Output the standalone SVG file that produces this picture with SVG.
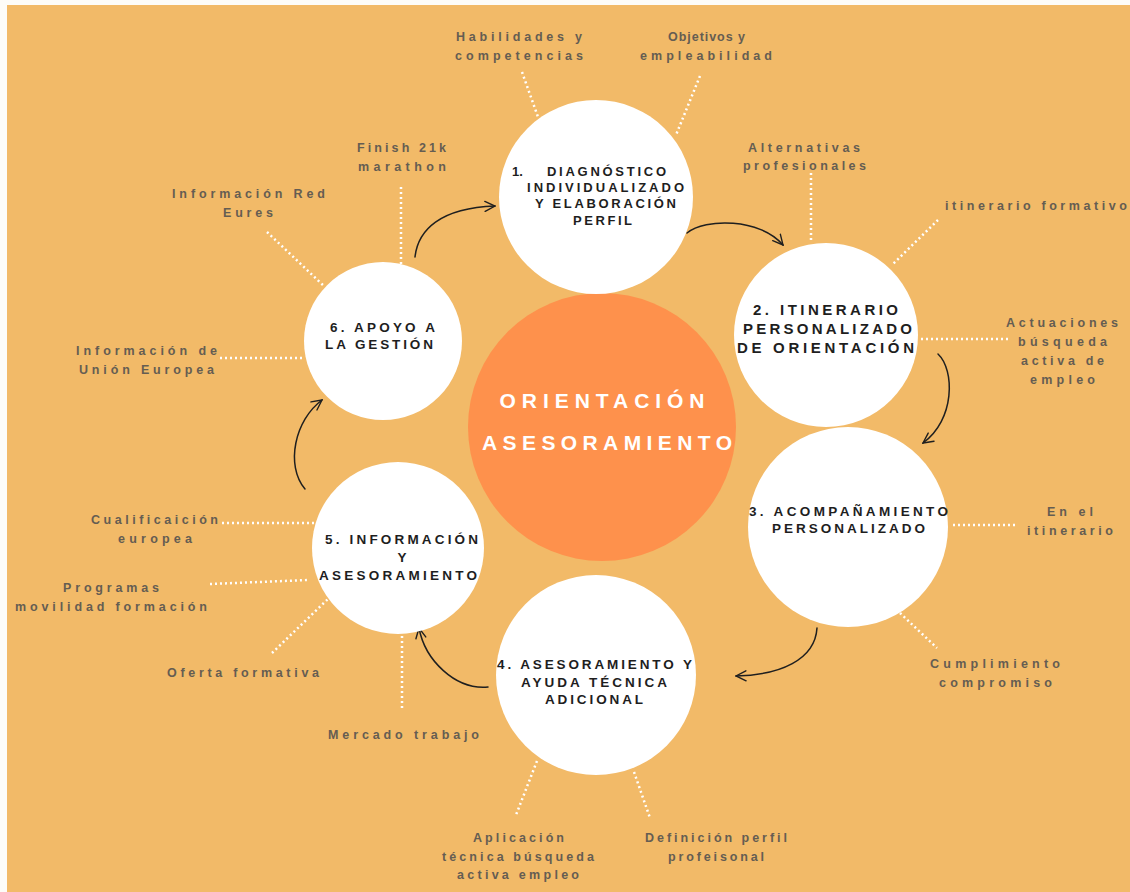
<svg xmlns="http://www.w3.org/2000/svg" width="1130" height="892" viewBox="0 0 1130 892">
<defs>
<style>
.bg{fill:#F2BA68}
.node{fill:#FFFFFF}
.core{fill:#FE914C}
.nt{font-family:"Liberation Sans",Arial,sans-serif;font-weight:bold;font-size:13.5px;fill:#1E1E1E;text-anchor:middle}
.ct{font-family:"Liberation Sans",Arial,sans-serif;font-weight:bold;font-size:21px;fill:#FFFFFF;text-anchor:middle}
.lb{font-family:"Liberation Sans",Arial,sans-serif;font-weight:bold;font-size:12.5px;fill:#655D52;text-anchor:middle}
.dot{stroke:#FFFFFF;stroke-width:2.5;stroke-dasharray:2 3;fill:none}
.arr{stroke:#1F1F1F;stroke-width:1.5;fill:none;stroke-linecap:round}
</style>
<marker id="ah" viewBox="0 0 12 12" refX="11" refY="6" markerWidth="12" markerHeight="12" markerUnits="userSpaceOnUse" orient="auto">
<path d="M1,1 L11,6 L1,11" fill="none" stroke="#1F1F1F" stroke-width="1.4" stroke-linecap="round"/>
</marker>
</defs>
<rect x="0" y="0" width="1130" height="892" fill="#FDFCF8"/>
<rect class="bg" x="7" y="5" width="1123" height="887"/>

<g id="connectors">
<path class="dot" d="M522,72 L538,117"/>
<path class="dot" d="M700,76 L676,135"/>
<path class="dot" d="M401,187 L401,265"/>
<path class="dot" d="M811,173 L811,242"/>
<path class="dot" d="M938,220 L892,265"/>
<path class="dot" d="M921,339 L1010,339"/>
<path class="dot" d="M267,232 L325,287"/>
<path class="dot" d="M220,358 L303,358"/>
<path class="dot" d="M953,525 L1015,525"/>
<path class="dot" d="M900,613 L937,648"/>
<path class="dot" d="M222,523 L315,523"/>
<path class="dot" d="M210,584 L308,580"/>
<path class="dot" d="M272,653 L328,599"/>
<path class="dot" d="M402,631 L402,708"/>
<path class="dot" d="M537,761 L516,815"/>
<path class="dot" d="M634,772 L650,818"/>
<path class="arr" marker-end="url(#ah)" d="M415,257 C418,230 440,208 495,206"/>
<path class="arr" marker-end="url(#ah)" d="M687,233 C705,218 760,218 783,245"/>
<path class="arr" marker-end="url(#ah)" d="M938,354 C955,370 955,420 923,443"/>
<path class="arr" marker-end="url(#ah)" d="M817,628 C815,660 780,675 736,676"/>
<path class="arr" marker-end="url(#ah)" d="M488,687 C455,690 425,660 419,628"/>
<path class="arr" marker-end="url(#ah)" d="M305,489 C285,465 295,420 322,400"/>
</g>

<g id="center">
<circle class="core" cx="602" cy="427" r="134"/>
<text class="ct" x="602" y="408" textLength="205" lengthAdjust="spacing">ORIENTACIÓN</text>
<text class="ct" x="607" y="450" textLength="250" lengthAdjust="spacing">ASESORAMIENTO</text>
</g>

<g id="node1">
<circle class="node" cx="596" cy="197" r="97"/>
<text class="nt" style="font-size:13px"><tspan x="512" y="176" text-anchor="start">1.</tspan><tspan x="547" y="176" text-anchor="start" textLength="119" lengthAdjust="spacing">DIAGNÓSTICO</tspan></text>
<text class="nt" style="font-size:13px" x="605.5" y="192" textLength="157" lengthAdjust="spacing">INDIVIDUALIZADO</text>
<text class="nt" style="font-size:13px" x="605.5" y="208" textLength="141" lengthAdjust="spacing">Y ELABORACIÓN</text>
<text class="nt" style="font-size:13px" x="602.5" y="225" textLength="59" lengthAdjust="spacing">PERFIL</text>
</g>

<g id="node2">
<circle class="node" cx="826" cy="335" r="92"/>
<text class="nt" style="font-size:15px" x="825.5" y="315" textLength="145" lengthAdjust="spacing">2. ITINERARIO</text>
<text class="nt" style="font-size:15px" x="827.5" y="334" textLength="169" lengthAdjust="spacing">PERSONALIZADO</text>
<text class="nt" style="font-size:15px" x="825.5" y="353" textLength="177" lengthAdjust="spacing">DE ORIENTACIÓN</text>
</g>

<g id="node3">
<circle class="node" cx="848" cy="527" r="100"/>
<text class="nt" x="848.5" y="516" textLength="199" lengthAdjust="spacing">3. ACOMPAÑAMIENTO</text>
<text class="nt" x="848.5" y="533" textLength="153" lengthAdjust="spacing">PERSONALIZADO</text>
</g>

<g id="node4">
<circle class="node" cx="596" cy="675" r="100"/>
<text class="nt" x="594.5" y="669" textLength="195" lengthAdjust="spacing">4. ASESORAMIENTO Y</text>
<text class="nt" x="594" y="687" textLength="146" lengthAdjust="spacing">AYUDA TÉCNICA</text>
<text class="nt" x="594" y="704" textLength="98" lengthAdjust="spacing">ADICIONAL</text>
</g>

<g id="node5">
<circle class="node" cx="398" cy="548" r="86"/>
<text class="nt" x="401.5" y="544" textLength="153" lengthAdjust="spacing">5. INFORMACIÓN</text>
<text class="nt" x="402" y="562">Y</text>
<text class="nt" x="398" y="580" textLength="158" lengthAdjust="spacing">ASESORAMIENTO</text>
</g>

<g id="node6">
<circle class="node" cx="383" cy="341" r="79"/>
<text class="nt" x="382.5" y="332" textLength="105" lengthAdjust="spacing">6. APOYO A</text>
<text class="nt" x="379" y="349" textLength="108" lengthAdjust="spacing">LA GESTIÓN</text>
</g>

<g id="labels">
<text class="lb" x="519" y="41" textLength="126" lengthAdjust="spacing">Habilidades y</text>
<text class="lb" x="519" y="60" textLength="128" lengthAdjust="spacing">competencias</text>
<text class="lb" x="706.5" y="41" textLength="77" lengthAdjust="spacing">Objetivos y</text>
<text class="lb" x="706" y="60" textLength="132" lengthAdjust="spacing">empleabilidad</text>
<text class="lb" x="401.5" y="152" textLength="89" lengthAdjust="spacing">Finish 21k</text>
<text class="lb" x="402" y="171" textLength="88" lengthAdjust="spacing">marathon</text>
<text class="lb" x="804" y="152" textLength="112" lengthAdjust="spacing">Alternativas</text>
<text class="lb" x="804.5" y="170" textLength="123" lengthAdjust="spacing">profesionales</text>
<text class="lb" x="1036" y="210" textLength="182" lengthAdjust="spacing">itinerario formativo</text>
<text class="lb" x="1062" y="327" textLength="112" lengthAdjust="spacing">Actuaciones</text>
<text class="lb" x="1062.5" y="346" textLength="89" lengthAdjust="spacing">búsqueda</text>
<text class="lb" x="1062.5" y="365" textLength="83" lengthAdjust="spacing">activa de</text>
<text class="lb" x="1062.5" y="384" textLength="65" lengthAdjust="spacing">empleo</text>
<text class="lb" x="248.5" y="198" textLength="153" lengthAdjust="spacing">Información Red</text>
<text class="lb" x="248" y="217" textLength="50" lengthAdjust="spacing">Eures</text>
<text class="lb" x="146.5" y="355" textLength="141" lengthAdjust="spacing">Información de</text>
<text class="lb" x="146.5" y="374" textLength="135" lengthAdjust="spacing">Unión Europea</text>
<text class="lb" x="1070" y="516" textLength="46" lengthAdjust="spacing">En el</text>
<text class="lb" x="1070" y="535" textLength="86" lengthAdjust="spacing">itinerario</text>
<text class="lb" x="995" y="668" textLength="130" lengthAdjust="spacing">Cumplimiento</text>
<text class="lb" x="995.5" y="687" textLength="113" lengthAdjust="spacing">compromiso</text>
<text class="lb" x="154.5" y="524" textLength="127" lengthAdjust="spacing">Cualificaición</text>
<text class="lb" x="155" y="543" textLength="74" lengthAdjust="spacing">europea</text>
<text class="lb" x="111" y="592" textLength="96" lengthAdjust="spacing">Programas</text>
<text class="lb" x="111" y="611" textLength="192" lengthAdjust="spacing">movilidad formación</text>
<text class="lb" x="243" y="677" textLength="152" lengthAdjust="spacing">Oferta formativa</text>
<text class="lb" x="403.5" y="739" textLength="151" lengthAdjust="spacing">Mercado trabajo</text>
<text class="lb" x="518.5" y="842" textLength="91" lengthAdjust="spacing">Aplicación</text>
<text class="lb" x="518" y="861" textLength="152" lengthAdjust="spacing">técnica búsqueda</text>
<text class="lb" x="518" y="879" textLength="122" lengthAdjust="spacing">activa empleo</text>
<text class="lb" x="716" y="842" textLength="142" lengthAdjust="spacing">Definición perfil</text>
<text class="lb" x="716" y="861" textLength="96" lengthAdjust="spacing">profeisonal</text>
</g>
</svg>
